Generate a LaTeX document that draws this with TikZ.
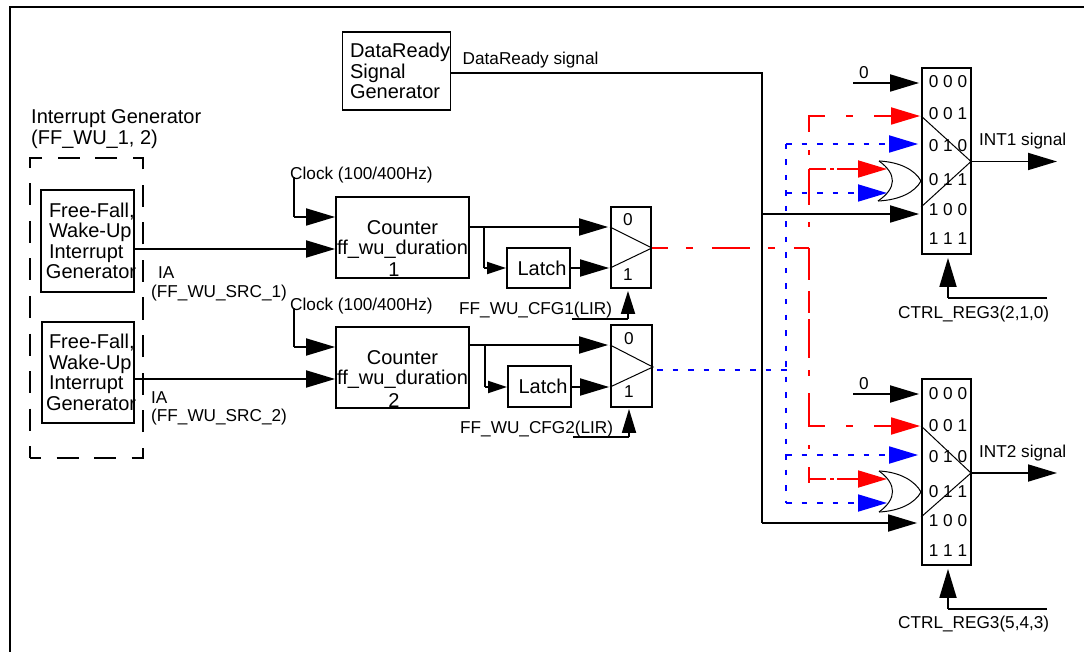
\documentclass[tikz,border=0pt]{standalone}
\usepackage{fontspec}
\setmainfont{Liberation Sans}
\usetikzlibrary{arrows.meta}
\newcommand{\bigsz}{\fontsize{20}{20.5}\selectfont}
\newcommand{\smlsz}{\fontsize{17.2}{20.5}\selectfont}
\begin{document}
\begin{tikzpicture}
            [x=1pt,y=-1pt,
            ln/.style={line width=1.8pt},
            tri/.style={line width=1pt},
            box/.style={draw,line width=1.8pt,inner sep=0,font=\bigsz},
            lbl/.style={anchor=base west,inner sep=0,font=\smlsz},
            bit/.style={anchor=base,inner sep=0,font=\smlsz},
            arr/.style={ln,-{Triangle[length=29pt,width=17pt]}},
            arrs/.style={ln,-{Triangle[length=19pt,width=12pt]}},
            rd/.style={ln,red,dash pattern=on 38 off 18 on 7 off 19},
            rdb/.style={arr,red,dash pattern=on 17 off 4 on 4 off 3 on 60},
            bl/.style={ln,blue,dash pattern=on 5.5 off 10},
            bla/.style={bl,-{Triangle[length=29pt,width=17pt]}}]
            \useasboundingbox (0,0) rectangle (1084,652);
            \draw[ln,line width=2pt] (10,652) -- (10,7) -- (1084,7);
            \node[box,minimum width=108,minimum height=78,text width=101,align=left](dsg) at (396.5,71)
                {\hspace*{4pt}\mbox{DataReady}\\\hspace*{4pt}Signal\\\hspace*{4pt}Generator};
            \node[lbl](dsgt) at (462.5,65) {DataReady signal};
            \node[lbl,font=\bigsz,align=left,anchor=north west](igent) at (31,109.5) {Interrupt Generator\\(FF\_WU\_1, 2)};
            \node[draw,ln,dash pattern=on 22 off 15.5,dash phase=11,inner sep=0,minimum width=113,minimum height=300](igen) at (86.5,308) {};
            \node[box,minimum width=93,minimum height=102,text width=92,align=left](gena) at (87.5,241)
                {\hspace*{7.5pt}\mbox{Free-Fall,}\\\hspace*{7.5pt}\mbox{Wake-Up}\\\hspace*{7.5pt}\mbox{Interrupt}\\\hspace*{4.5pt}\mbox{Generator}};
            \node[box,minimum width=92,minimum height=101,text width=92,align=left](genb) at (88,372.5)
                {\hspace*{7pt}\mbox{Free-Fall,}\\\hspace*{7pt}\mbox{Wake-Up}\\\hspace*{7pt}\mbox{Interrupt}\\\hspace*{4pt}\mbox{Generator}};
            \node[lbl](iaa) at (158,279) {IA};
            \node[lbl](srca) at (151,298) {(FF\_WU\_SRC\_1)};
            \node[lbl](iab) at (151,403) {IA};
            \node[lbl](srcb) at (151,421) {(FF\_WU\_SRC\_2)};
            \node[lbl](clkat) at (290,180) {Clock (100/400Hz)};
            \node[lbl](clkbt) at (290,310) {Clock (100/400Hz)};
            \node[box,minimum width=133,minimum height=81,align=center](cnta) at (402.5,237.5)
                {\rule{0pt}{36pt}Counter\\ff\_wu\_duration\\[2pt]\hspace*{-17pt}1};
            \node[box,minimum width=133,minimum height=81,align=center](cntb) at (402.5,367.5)
                {\rule{0pt}{36pt}Counter\\ff\_wu\_duration\\[2pt]\hspace*{-17pt}2};
            \node[box,minimum width=63,minimum height=40](lata) at (538.5,268) {\hspace*{7pt}Latch};
            \node[box,minimum width=63,minimum height=41](latb) at (539.5,386.5) {\hspace*{7pt}Latch};
            \node[box,minimum width=40,minimum height=81](muxc) at (631,247.5) {};
            \node[box,minimum width=41,minimum height=82](muxd) at (631.5,366) {};
            \node[bit](muxc0) at (628,226) {0};
            \node[bit](muxc1) at (628,280) {1};
            \node[bit](muxd0) at (629,344) {0};
            \node[bit](muxd1) at (629,397) {1};
            \node[lbl](cfga) at (459,315) {FF\_WU\_CFG1(LIR)};
            \node[lbl](cfgb) at (460,433) {FF\_WU\_CFG2(LIR)};
            \node[box,minimum width=49,minimum height=186](muxa) at (946.5,161) {};
            \node[box,minimum width=49,minimum height=186](muxb) at (946.5,472) {};
            \node[bit](a0) at (948,88) {0 0 0};
            \node[bit](a1) at (948,120) {0 0 1};
            \node[bit](a2) at (948,152) {0 1 0};
            \node[bit](a3) at (948,186) {0 1 1};
            \node[bit](a4) at (948,216) {1 0 0};
            \node[bit](a5) at (948,245) {1 1 1};
            \node[bit](b0) at (948,399) {0 0 0};
            \node[bit](b1) at (948,431) {0 0 1};
            \node[bit](b2) at (948,462) {0 1 0};
            \node[bit](b3) at (948,497) {0 1 1};
            \node[bit](b4) at (948,526) {1 0 0};
            \node[bit](b5) at (948,556) {1 1 1};
            \node[bit](zeroat) at (864,79) {0};
            \node[bit](zerobt) at (864,389) {0};
            \node[lbl](intat) at (979,146) {INT1 signal};
            \node[lbl](intbt) at (979,457) {INT2 signal};
            \node[lbl](ctrlat) at (898,318) {CTRL\_REG3(2,1,0)};
            \node[lbl](ctrlbt) at (898,628) {CTRL\_REG3(5,4,3)};
            \coordinate (dsgo) at (450,73);
            \coordinate (bus) at (762,73);
            \coordinate (busa) at (762,214);
            \coordinate (busb) at (762,523);
            \coordinate (clka) at (294,177);
            \coordinate (clkb) at (294,308);
            \coordinate (clkai) at (294,217);
            \coordinate (clkbi) at (294,347);
            \coordinate (ina) at (134,249);
            \coordinate (inb) at (134,379);
            \coordinate (cntao) at (469,227);
            \coordinate (cntbo) at (469,345);
            \coordinate (brca) at (484,227);
            \coordinate (brcb) at (485,345);
            \coordinate (brla) at (484,268);
            \coordinate (brlb) at (485,387);
            \coordinate (sela) at (572,319);
            \coordinate (selb) at (573,437);
            \coordinate (selac) at (628,319);
            \coordinate (selbc) at (629,437);
            \coordinate (zeroa) at (853,83);
            \coordinate (zerob) at (853,394);
            \coordinate (reda) at (809,116);
            \coordinate (redb) at (809,426);
            \coordinate (redc) at (809,248);
            \coordinate (orra) at (809,169);
            \coordinate (orrb) at (809,479);
            \coordinate (orta) at (887,169);
            \coordinate (ortb) at (887,479);
            \coordinate (blua) at (786,144);
            \coordinate (blub) at (786,455);
            \coordinate (bloa) at (786,193);
            \coordinate (blob) at (786,503);
            \coordinate (obta) at (887,193);
            \coordinate (obtb) at (887,503);
            \coordinate (bluc) at (657,370);
            \coordinate (bluo) at (793,370);
            \coordinate (outa) at (971,161.5);
            \coordinate (outb) at (971,473);
            \coordinate (inta) at (1057,161.5);
            \coordinate (intb) at (1057,473);
            \coordinate (ctla) at (1047,298);
            \coordinate (ctlb) at (1047,609);
            \coordinate (ctlac) at (948,298);
            \coordinate (ctlbc) at (948,609);
            \draw[tri] (muxc.west |- cntao) -- (muxc.east |- redc) -- (muxc.west |- brla);
            \draw[tri] (muxd.west |- cntbo) -- (muxd.east |- 0,367) -- (muxd.west |- brlb);
            \draw[tri] (muxa.west |- reda) -- (outa) -- (muxa.west |- 0,207);
            \draw[tri] (muxb.west |- redb) -- (outb) -- (muxb.west |- 0,517);
            \draw[tri] (879,161) .. controls (897,174) and (897,188) .. (878,201);
            \draw[tri] (879,161) .. controls (900,162) and (915,170) .. (921,181) .. controls (915,192) and (900,200) .. (878,201);
            \draw[tri] (879,471) .. controls (897,484) and (897,499) .. (879,512);
            \draw[tri] (879,471) .. controls (900,472) and (915,481) .. (921,492) .. controls (915,503) and (900,511) .. (879,512);
            \draw[ln] (dsgo) -- (bus) -- (busb);
            \draw[arr,shorten >=4pt] (busb) -- (busb -| muxb.west);
            \draw[arr,shorten >=2pt] (busa) -- (busa -| muxa.west);
            \draw[arr,shorten >=2pt] (zeroa) -- (zeroa -| muxa.west);
            \draw[arr,shorten >=2pt] (zerob) -- (zerob -| muxb.west);
            \draw[ln] (clka) -- (clkai);
            \draw[ln] (clkb) -- (clkbi);
            \draw[arr] (clkai) -- (clkai -| cnta.west);
            \draw[arr] (clkbi) -- (clkbi -| cntb.west);
            \draw[arr] (ina) -- (ina -| cnta.west);
            \draw[arr] (inb) -- (inb -| cntb.west);
            \draw[arr,shorten >=2pt] (cntao) -- (cntao -| muxc.west);
            \draw[arr,shorten >=2pt] (cntbo) -- (cntbo -| muxd.west);
            \draw[ln] (brca) -- (brla);
            \draw[ln] (brcb) -- (brlb);
            \draw[arrs] (brla) -- (brla -| lata.west);
            \draw[arrs] (brlb) -- (brlb -| latb.west);
            \draw[arr,shorten >=1pt] (brla -| lata.east) -- (brla -| muxc.west);
            \draw[arr,shorten >=1pt] (brlb -| latb.east) -- (brlb -| muxd.west);
            \draw[ln] (sela) -- (selac);
            \draw[ln] (selb) -- (selbc);
            \draw[arr,shorten >=2pt,-{Triangle[length=23pt,width=14pt]}] (selac) -- (selac |- muxc.south);
            \draw[arr,shorten >=1pt,-{Triangle[length=24pt,width=14pt]}] (selbc) -- (selbc |- muxd.south);
            \draw[rd,dash phase=22] (muxc.east |- redc) -- (redc);
            \draw[rd,dash pattern=on 0 off 21 on 5 off 17 on 36 off 14 on 5 off 18 on 32 off 21 on 7 off 21 on 30] (redc) -- (reda) -- (890,116);
            \draw[arr,red,shorten >=1pt] (890,116) -- (reda -| muxa.west);
            \draw[rd,dash pattern=on 32 off 11 on 22 off 6 on 39 off 12 on 6 off 17 on 49 off 21 on 7 off 21 on 30] (redc) -- (redb) -- (890,426);
            \draw[arr,red,shorten >=1pt] (890,426) -- (redb -| muxb.west);
            \draw[rd,dash pattern=on 0 off 19 on 4 off 18 on 20] (redb) -- ++(0,57);
            \draw[rdb] (orra) -- (orta);
            \draw[rdb] (orrb) -- (ortb);
            \draw[line width=1.8pt,blue,dash pattern=on 5.5 off 10] (bluc) -- (bluo);
            \draw[bl] (blua) -- (blob);
            \draw[bla,shorten >=3pt] (blua) -- (blua -| muxa.west);
            \draw[bla,shorten >=3pt] (blub) -- (blub -| muxb.west);
            \draw[bla] (bloa) -- (obta);
            \draw[bla] (blob) -- (obtb);
            \draw[arr] (outa) -- (inta);
            \draw[arr] (outb) -- (intb);
            \draw[ln] (ctla) -- (ctlac);
            \draw[ln] (ctlb) -- (ctlbc);
            \draw[arr,shorten >=3pt] (ctlac) -- (ctlac |- muxa.south);
            \draw[arr,shorten >=3pt] (ctlbc) -- (ctlbc |- muxb.south);
        \end{tikzpicture}
\end{document}
